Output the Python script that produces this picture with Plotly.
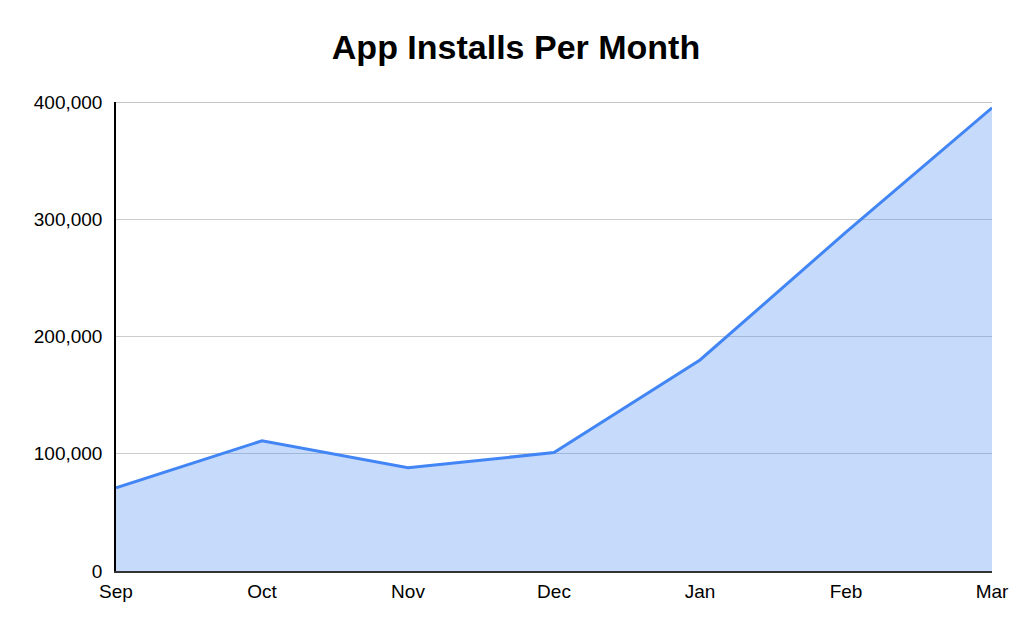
import plotly.graph_objects as go

# data
months = ["Sep", "Oct", "Nov", "Dec", "Jan", "Feb", "Mar"]
installs = [71000, 111000, 88000, 101000, 180000, 289000, 395000]
y_ticks = [0, 100000, 200000, 300000, 400000]
y_tick_labels = ["0", "100,000", "200,000", "300,000", "400,000"]

fig = go.Figure()
fig.add_trace(go.Scatter(
    x=months,
    y=installs,
    mode="lines",
    fill="tozeroy",
    fillcolor="rgba(66,133,244,0.30)",
    line=dict(color="#4285F4", width=3),
    hoverinfo="x+y",
))

# plotly drops the gridline that sits on the top edge, so draw it back
# (half of it gets clipped by the plot area, hence width 2)
fig.add_hline(y=y_ticks[-1], line=dict(color="#c4c4c4", width=2), layer="below")

# page body adds an 8px margin, so the figure is a bit smaller than the window
fig.update_layout(
    width=1016,
    height=626,
    paper_bgcolor="white",
    plot_bgcolor="white",
    margin=dict(l=108, r=32, t=94, b=63),
    showlegend=False,
    font=dict(family="Liberation Sans, Arial, sans-serif", size=19, color="#000"),
    title=dict(
        text="<b>App Installs Per Month</b>",
        x=0.5,
        xanchor="center",
        y=0.937,
        yanchor="middle",
        font=dict(size=34, color="#000"),
    ),
    xaxis=dict(
        type="category",
        range=[0, len(months) - 1],
        showgrid=False,
        showline=True,
        linecolor="#333",
        linewidth=1.5,
        ticks="",
        tickfont=dict(size=19),
        ticklabelstandoff=2,
        zeroline=False,
    ),
    yaxis=dict(
        range=[0, 400000],
        tickvals=y_ticks,
        ticktext=y_tick_labels,
        showgrid=True,
        gridcolor="#cccccc",
        gridwidth=1,
        showline=True,
        linecolor="#000",
        linewidth=1.5,
        ticks="",
        tickfont=dict(size=19),
        ticklabelstandoff=8,
        zeroline=False,
    ),
)

fig.write_html("out.html")
